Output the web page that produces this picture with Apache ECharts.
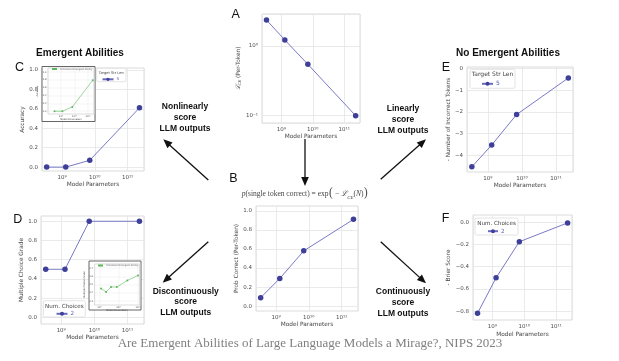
<!DOCTYPE html>
<html><head><meta charset="utf-8">
<script src="https://cdn.jsdelivr.net/npm/echarts@6/dist/echarts.min.js"></script>
<style>html,body{margin:0;padding:0;background:#fff}#c{width:619px;height:361px}</style>
</head><body><div id="c"></div>
<script>
// ---------------- data ----------------
const modelParams = [3.4e8, 1.3e9, 7.0e9, 2.3e11];
const lossCE = [2.36, 1.22, 0.546, 0.1];
const probCorrect = [0.09, 0.29, 0.58, 0.91];
const accuracy = [0.0, 0.0, 0.07, 0.61];
const mcGrade = [0.5, 0.5, 1.0, 1.0];
const negIncorrectTokens = [-4.54, -3.53, -2.12, -0.43];
const negBrierScore = [-0.82, -0.50, -0.175, -0.005];
const insetCAccuracy = [0.0, 0.0, 0.11, 0.79];
const insetDParams = [1.2e9, 2.2e9, 4.0e9, 8.0e9, 2.8e10, 1.0e11];
const insetDGrade = [0.45, 0.41, 0.47, 0.47, 0.55, 0.61];
const unitTicks = [0, 0.2, 0.4, 0.6, 0.8, 1.0];
const tokenTicks = [-4, -3, -2, -1, 0];
const brierTicks = [-0.8, -0.6, -0.4, -0.2, 0];
const insetDTicks = [0.3, 0.4, 0.5, 0.6, 0.7];

// ---------------- helpers ----------------
const SUP = {'-':'⁻','0':'⁰','1':'¹','2':'²','3':'³','4':'⁴','5':'⁵','6':'⁶','7':'⁷','8':'⁸','9':'⁹'};
const pow10Label = v => { const e = Math.round(Math.log10(v)); return '10' + String(e).split('').map(c => SUP[c]).join(''); };
const dec1 = v => (v < 0 ? '−' : '') + Math.abs(v).toFixed(1);
const intLab = v => (v < 0 ? '−' : '') + Math.abs(v);
const zip = (xs, ys) => xs.map((x, i) => [x, ys[i]]);

const FF = 'DejaVu Sans';
const TICKC = '#4d4d4d';
const GRIDC = '#e4e4e4';
const BORDERC = '#d2d2d2';
const MARK = '#3d3f98';
const LINEC = '#6a6ac0';
const GREEN = '#5cb85c';

function xLog(g, min, max, gap, fs, z) {
  return {
    type: 'log', logBase: 10, gridIndex: g, min, max, z: z || 0,
    axisLine: {show: false}, axisTick: {show: false},
    axisLabel: {formatter: pow10Label, fontSize: fs, color: TICKC, fontFamily: FF, margin: fs < 4 ? 1.5 : 3.5, showMinLabel: false, showMaxLabel: false},
    splitLine: {show: true, lineStyle: {color: GRIDC, width: fs < 4 ? 0.4 : 0.8}},
    name: 'Model Parameters', nameLocation: 'middle', nameGap: gap,
    nameTextStyle: {fontSize: fs < 4 ? fs : 5.8, color: '#444', fontFamily: FF}
  };
}
function yVal(g, min, max, ticks, fmt, name, gap, fs, z) {
  return {
    type: 'value', gridIndex: g, min, max, z: z || 0,
    axisLine: {show: false}, axisTick: {show: false, customValues: ticks},
    axisLabel: {customValues: ticks, formatter: fmt, fontSize: fs, color: TICKC, fontFamily: FF, margin: fs < 4 ? 1.5 : 4},
    splitLine: {show: true, lineStyle: {color: GRIDC, width: fs < 4 ? 0.4 : 0.8}},
    name, nameLocation: 'middle', nameGap: gap,
    nameTextStyle: {fontSize: fs < 4 ? fs : 5.8, color: '#444', fontFamily: FF}
  };
}
function mainSeries(name, xi, data) {
  return {name, type: 'line', xAxisIndex: xi, yAxisIndex: xi, data, symbol: 'circle', symbolSize: 5.5,
    itemStyle: {color: MARK}, lineStyle: {color: LINEC, width: 0.9}, z: 3, animation: false};
}
function arrow(x1, y1, x2, y2) {
  const dx = x2 - x1, dy = y2 - y1, L = Math.hypot(dx, dy), ux = dx / L, uy = dy / L;
  const hl = 9, hw = 3.8, bx = x2 - ux * hl, by = y2 - uy * hl;
  return [
    {type: 'line', shape: {x1, y1, x2: bx + ux, y2: by + uy}, style: {stroke: '#111', lineWidth: 1.3}, z: 20},
    {type: 'polygon', shape: {points: [[x2, y2], [bx - uy * hw, by + ux * hw], [bx + uy * hw, by - ux * hw]]}, style: {fill: '#111'}, z: 20}
  ];
}
function txt(x, y, text, o) {
  return {type: 'text', x, y, z: 30, style: Object.assign({text, fill: '#111', fontFamily: 'Liberation Sans', fontSize: 12, align: 'center', verticalAlign: 'middle'}, o || {})};
}
function box(x, y, w, h, stroke, z, lw) {
  return {type: 'rect', shape: {x, y, width: w, height: h, r: stroke === '#555' ? 0 : 1.5}, style: {fill: '#fff', stroke, lineWidth: lw || 0.8}, z};
}

const xMin = 2.45e8, xMax = 3.16e11;

const grids = [
  {left: 262, top: 14, width: 98, height: 109},   // A
  {left: 256, top: 206, width: 102, height: 105}, // B
  {left: 42, top: 68, width: 102, height: 103},   // C
  {left: 41, top: 216, width: 103, height: 108},  // D
  {left: 467, top: 67, width: 106, height: 105},  // E
  {left: 473, top: 215, width: 99, height: 105},  // F
  {left: 48, top: 68, width: 46, height: 46, z: 4},      // inset C
  {left: 94.5, top: 264, width: 45, height: 41, z: 4}    // inset D
].map(g => Object.assign({show: true, borderColor: BORDERC, borderWidth: 0.8, containLabel: false, outerBoundsMode: 'none'}, g));

const xAxes = [
  xLog(0, xMin, xMax, 8, 5.5),
  xLog(1, xMin, xMax, 9, 5.5),
  xLog(2, xMin, xMax, 10, 5.5),
  xLog(3, xMin, xMax, 8, 5.5),
  xLog(4, xMin, xMax, 10, 5.5),
  xLog(5, xMin, xMax, 11, 5.5),
  xLog(6, 1.12e8, 2.82e11, 2.5, 2.4, 5),
  xLog(7, 5.5e8, 1.2e11, 2.5, 2.4, 5)
];
const yA = {
  type: 'log', logBase: 10, gridIndex: 0, min: 0.0785, max: 2.88,
  axisLine: {show: false}, axisTick: {show: false},
  axisLabel: {formatter: pow10Label, fontSize: 5.5, color: TICKC, fontFamily: FF, margin: 4, showMinLabel: false, showMaxLabel: false},
  splitLine: {show: true, lineStyle: {color: GRIDC, width: 0.8}},
  name: '{l|ℒ}{s|CE}{n| (Per-Token)}', nameLocation: 'middle', nameGap: 15,
  nameTextStyle: {fontSize: 5.8, color: '#444', fontFamily: FF, rich: {
    l: {fontSize: 6.5, fontFamily: 'DejaVu Serif', fontStyle: 'italic', color: '#444'},
    s: {fontSize: 3.8, fontFamily: 'DejaVu Serif', fontStyle: 'italic', color: '#444', verticalAlign: 'bottom'},
    n: {fontSize: 5.8, color: '#444', fontFamily: FF}}}
};
const yAxes = [
  yA,
  yVal(1, -0.05, 1.05, unitTicks, dec1, 'Prob Correct (Per-Token)', 13, 5.5),
  yVal(2, -0.04, 1.02, unitTicks, dec1, 'Accuracy', 15, 5.5),
  yVal(3, -0.07, 1.055, unitTicks, dec1, 'Multiple Choice Grade', 14, 5.5),
  yVal(4, -4.78, 0.08, tokenTicks, intLab, '- Number of Incorrect Tokens', 13, 5.5),
  yVal(5, -0.88, 0.066, brierTicks, dec1, '- Brier Score', 16, 5.5),
  yVal(6, -0.07, 1.1, unitTicks, dec1, 'Accuracy', 5, 2.4, 5),
  yVal(7, 0.25, 0.75, insetDTicks, dec1, 'Multiple Choice Grade', 5, 2.4, 5)
];

const series = [
  mainSeries('lossCE', 0, zip(modelParams, lossCE)),
  mainSeries('probCorrect', 1, zip(modelParams, probCorrect)),
  mainSeries('5', 2, zip(modelParams, accuracy)),
  mainSeries('2', 3, zip(modelParams, mcGrade)),
  mainSeries('5', 4, zip(modelParams, negIncorrectTokens)),
  mainSeries('2', 5, zip(modelParams, negBrierScore)),
  {name: 'Individual Emergent Ability', type: 'line', xAxisIndex: 6, yAxisIndex: 6, data: zip(modelParams, insetCAccuracy),
    symbol: 'circle', symbolSize: 2, itemStyle: {color: GREEN}, lineStyle: {color: GREEN, width: 0.6}, z: 6, animation: false},
  {name: 'Individual Emergent Ability', type: 'line', xAxisIndex: 7, yAxisIndex: 7, data: zip(insetDParams, insetDGrade),
    symbol: 'circle', symbolSize: 2, itemStyle: {color: GREEN}, lineStyle: {color: GREEN, width: 0.6}, z: 6, animation: false}
];

function legend(name, left, top, iw, ih, fs, color) {
  return {data: [name], left, top, padding: 0, itemWidth: iw, itemHeight: ih, itemGap: 2, selectedMode: false, z: 25,
    textStyle: {fontSize: fs, color: color || '#5a5ab0', fontFamily: FF, padding: [0, 0, 0, -2]}};
}
const legends = [
  legend('5', 101.5, 77.3, 11, 4, 4.2),
  legend('5', 481, 80.8, 11, 5, 6),
  legend('2', 55.5, 310.8, 11, 5, 5.6),
  legend('2', 487, 228.2, 10, 5, 5.6),
  legend('Individual Emergent Ability', 51, 68, 5, 2, 2.4, '#666'),
  legend('Individual Emergent Ability', 97, 264.5, 5, 2, 2.4, '#666')
];

const graphics = [
  // inset boxes
  box(42, 66.5, 53, 55, '#555', 2, 0.9),
  box(89, 261, 52, 49, '#555', 2, 0.9),
  // legend boxes & titles
  box(96.7, 68.3, 29.3, 13.4, '#dcdcdc', 22),
  txt(111.3, 72.6, 'Target Str Len', {fontSize: 3.6, fontFamily: FF, fill: '#444'}),
  box(470, 69.3, 45, 19, '#dcdcdc', 22),
  txt(492.5, 74.6, 'Target Str Len', {fontSize: 6, fontFamily: FF, fill: '#444'}),
  box(43.3, 300.7, 42, 16.3, '#dcdcdc', 22),
  txt(64.3, 306.5, 'Num. Choices', {fontSize: 5.6, fontFamily: FF, fill: '#444'}),
  box(475, 218, 43, 17, '#dcdcdc', 22),
  txt(496.5, 223.5, 'Num. Choices', {fontSize: 5.6, fontFamily: FF, fill: '#444'}),
  // section titles
  txt(80, 53, 'Emergent Abilities', {fontSize: 10, fontWeight: 'bold'}),
  txt(508, 53, 'No Emergent Abilities', {fontSize: 10, fontWeight: 'bold'}),
  // panel letters
  txt(231.5, 15, 'A', {align: 'left', fontSize: 12.5}),
  txt(229.3, 179, 'B', {align: 'left', fontSize: 12.5}),
  txt(15, 67.5, 'C', {align: 'left', fontSize: 12.5}),
  txt(13.3, 220, 'D', {align: 'left', fontSize: 12.5}),
  txt(441.7, 67.5, 'E', {align: 'left', fontSize: 12.5}),
  txt(441.7, 218.5, 'F', {align: 'left', fontSize: 12.5}),
  // arrow labels
  txt(185, 117.7, 'Nonlinearly\nscore\nLLM outputs', {fontSize: 8.5, fontWeight: 'bold', lineHeight: 11}),
  txt(403, 120, 'Linearly\nscore\nLLM outputs', {fontSize: 8.5, fontWeight: 'bold', lineHeight: 11}),
  txt(185.7, 302, 'Discontinuously\nscore\nLLM outputs', {fontSize: 8.5, fontWeight: 'bold', lineHeight: 10.5}),
  txt(403, 303, 'Continuously\nscore\nLLM outputs', {fontSize: 8.5, fontWeight: 'bold', lineHeight: 11}),
  // equation above B
  {type: 'text', x: 305, y: 194, z: 30, style: {
    text: '{i|p}{n|(single token correct) = exp}{b|(}{n| − }{l|ℒ}{s|CE}{n|(}{i|N}{n|)}{b|)}',
    align: 'center', verticalAlign: 'middle', fill: '#444',
    rich: {
      n: {fontFamily: 'Liberation Serif', fontSize: 7.5, fill: '#444'},
      i: {fontFamily: 'Liberation Serif', fontStyle: 'italic', fontSize: 7.5, fill: '#444'},
      l: {fontFamily: 'DejaVu Serif', fontStyle: 'italic', fontSize: 7.5, fill: '#444'},
      s: {fontFamily: 'Liberation Serif', fontStyle: 'italic', fontSize: 5, fill: '#444', verticalAlign: 'bottom'},
      b: {fontFamily: 'DejaVu Serif', fontSize: 12, fill: '#555'}
    }}},
  // caption
  txt(310, 344, 'Are Emergent Abilities of Large Language Models a Mirage?, NIPS 2023', {fontFamily: 'Liberation Serif', fontSize: 13, fill: '#808080'}),
  // arrows
  ...arrow(305, 139, 305, 186),
  ...arrow(208.3, 180, 163.3, 139.3),
  ...arrow(380.7, 179.3, 426, 139.3),
  ...arrow(208.3, 241.7, 162.7, 282.7),
  ...arrow(380.7, 241.7, 426, 283.3)
];

const chart = echarts.init(document.getElementById('c'), null, {renderer: 'canvas', width: 619, height: 361});
chart.setOption({
  backgroundColor: '#ffffff',
  animation: false,
  textStyle: {fontFamily: FF},
  grid: grids,
  xAxis: xAxes,
  yAxis: yAxes,
  legend: legends,
  series,
  graphic: {elements: graphics}
});
</script>
</body></html>
